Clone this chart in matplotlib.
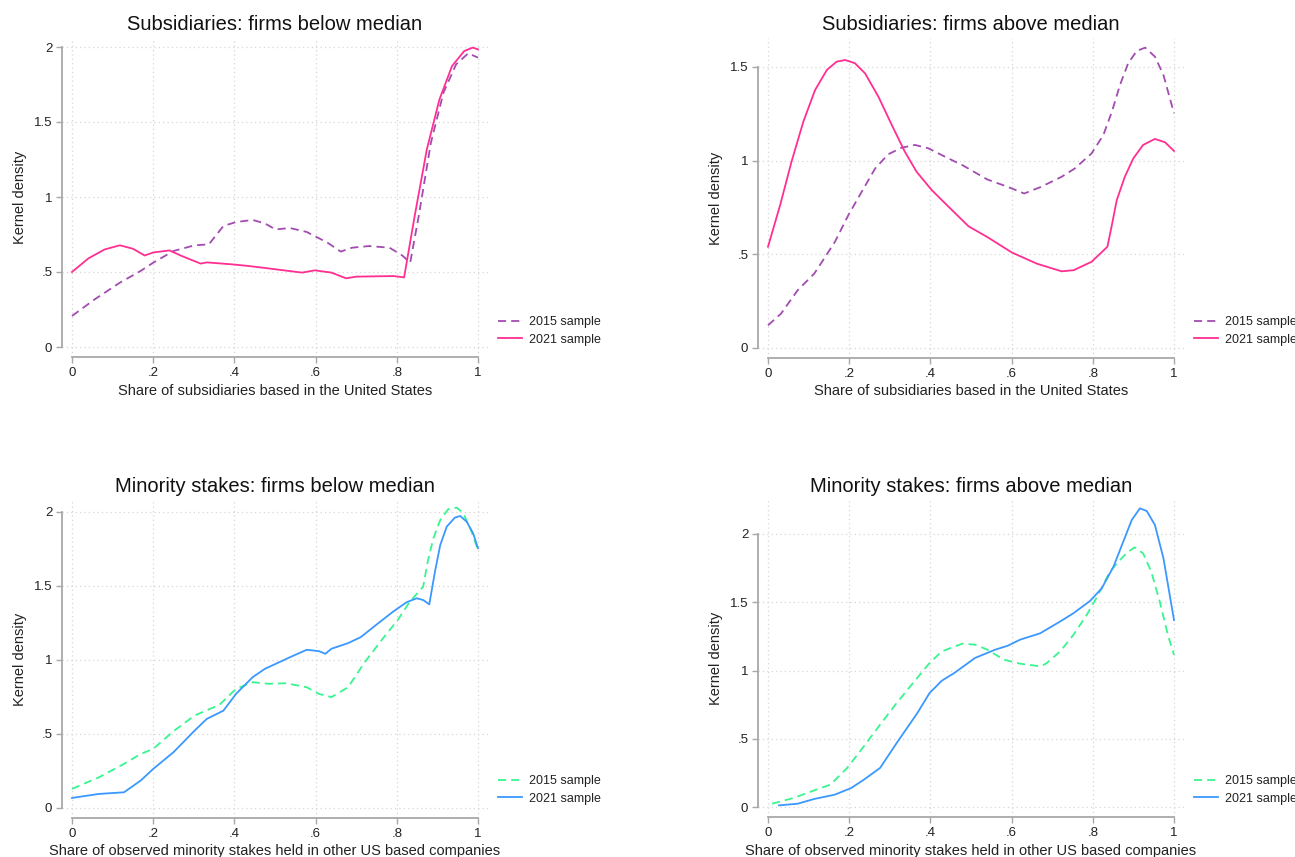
import matplotlib
matplotlib.use("Agg")
import matplotlib.pyplot as plt

plt.rcParams['font.family'] = ['Liberation Sans', 'DejaVu Sans']

W, H = 1295, 857

# ---------------- data ----------------
# Panel 1: Subsidiaries, firms below median
p1_2015_x = [0.0, 0.056, 0.118, 0.169, 0.2, 0.25, 0.302, 0.337, 0.373, 0.404, 0.445, 0.475, 0.501,
             0.537, 0.578, 0.629, 0.662, 0.69, 0.731, 0.782, 0.813, 0.833, 0.854, 0.884, 0.915,
             0.946, 0.976, 1.0]
p1_2015_y = [0.207, 0.318, 0.429, 0.507, 0.562, 0.64, 0.678, 0.684, 0.807, 0.833, 0.847, 0.824, 0.784,
             0.793, 0.767, 0.696, 0.636, 0.662, 0.673, 0.662, 0.611, 0.562, 0.873, 1.362, 1.696,
             1.884, 1.958, 1.929]
p1_2021_x = [0.0, 0.04, 0.08, 0.118, 0.15, 0.179, 0.2, 0.24, 0.27, 0.317, 0.332, 0.394, 0.435, 0.475,
             0.516, 0.567, 0.598, 0.639, 0.675, 0.70, 0.792, 0.818, 0.844, 0.874, 0.905, 0.936,
             0.966, 0.987, 1.0]
p1_2021_y = [0.5, 0.59, 0.65, 0.678, 0.655, 0.61, 0.63, 0.644, 0.607, 0.556, 0.564, 0.551, 0.54, 0.527,
             0.513, 0.496, 0.511, 0.496, 0.458, 0.469, 0.473, 0.464, 0.873, 1.318, 1.65, 1.873,
             1.973, 1.996, 1.984]

# Panel 2: Subsidiaries, firms above median
p2_2015_x = [0.0, 0.032, 0.073, 0.114, 0.128, 0.165, 0.198, 0.231, 0.264, 0.296, 0.329, 0.362, 0.395,
             0.436, 0.479, 0.54, 0.591, 0.631, 0.672, 0.723, 0.756, 0.797, 0.826, 0.847, 0.867,
             0.887, 0.908, 0.929, 0.953, 0.974, 1.0]
p2_2015_y = [0.121, 0.183, 0.308, 0.397, 0.443, 0.567, 0.709, 0.834, 0.958, 1.033, 1.068, 1.083, 1.065,
             1.02, 0.975, 0.899, 0.859, 0.824, 0.859, 0.913, 0.958, 1.038, 1.136, 1.26, 1.403,
             1.518, 1.584, 1.602, 1.554, 1.456, 1.252]
p2_2021_x = [0.0, 0.03, 0.058, 0.087, 0.116, 0.145, 0.169, 0.19, 0.214, 0.239, 0.272, 0.305, 0.337,
             0.366, 0.403, 0.436, 0.494, 0.54, 0.601, 0.662, 0.723, 0.753, 0.797, 0.836, 0.847,
             0.859, 0.879, 0.9, 0.924, 0.953, 0.978, 1.0]
p2_2021_y = [0.54, 0.763, 0.994, 1.207, 1.376, 1.483, 1.527, 1.536, 1.519, 1.465, 1.34, 1.189, 1.047,
             0.94, 0.843, 0.772, 0.649, 0.592, 0.509, 0.45, 0.409, 0.415, 0.46, 0.54, 0.656,
             0.789, 0.914, 1.012, 1.083, 1.115, 1.097, 1.051]

# Panel 3: Minority stakes, firms below median
p3_2015_x = [0.0, 0.066, 0.128, 0.169, 0.2, 0.25, 0.302, 0.363, 0.404, 0.445, 0.486, 0.527, 0.578,
             0.608, 0.639, 0.68, 0.721, 0.762, 0.804, 0.832, 0.865, 0.876, 0.89, 0.907, 0.927,
             0.948, 0.964, 0.984, 1.0]
p3_2015_y = [0.129, 0.207, 0.298, 0.365, 0.399, 0.519, 0.625, 0.697, 0.805, 0.85, 0.839, 0.843, 0.816,
             0.771, 0.749, 0.816, 0.985, 1.132, 1.277, 1.394, 1.495, 1.664, 1.822, 1.946, 2.02,
             2.029, 1.991, 1.869, 1.743]
p3_2021_x = [0.0, 0.066, 0.128, 0.169, 0.2, 0.25, 0.302, 0.332, 0.373, 0.404, 0.445, 0.475, 0.537,
             0.578, 0.608, 0.624, 0.639, 0.68, 0.711, 0.755, 0.791, 0.824, 0.849, 0.865, 0.88,
             0.894, 0.907, 0.923, 0.943, 0.956, 0.972, 0.988, 1.0]
p3_2021_y = [0.068, 0.095, 0.106, 0.185, 0.264, 0.377, 0.523, 0.602, 0.658, 0.771, 0.884, 0.94, 1.019,
             1.069, 1.06, 1.042, 1.076, 1.114, 1.154, 1.25, 1.327, 1.39, 1.417, 1.405, 1.376,
             1.597, 1.777, 1.901, 1.962, 1.973, 1.935, 1.856, 1.755]

# Panel 4: Minority stakes, firms above median
p4_2015_x = [0.01, 0.063, 0.114, 0.154, 0.195, 0.236, 0.276, 0.317, 0.357, 0.398, 0.428, 0.479, 0.51,
             0.54, 0.581, 0.621, 0.672, 0.686, 0.719, 0.752, 0.785, 0.813, 0.842, 0.867, 0.887,
             0.903, 0.924, 0.944, 0.965, 0.985, 1.0]
p4_2015_y = [0.024, 0.066, 0.122, 0.164, 0.286, 0.444, 0.603, 0.762, 0.908, 1.055, 1.14, 1.197, 1.189,
             1.153, 1.079, 1.05, 1.03, 1.053, 1.138, 1.26, 1.407, 1.553, 1.724, 1.81, 1.87,
             1.902, 1.858, 1.724, 1.504, 1.26, 1.114]
p4_2021_x = [0.027, 0.073, 0.114, 0.164, 0.205, 0.236, 0.276, 0.317, 0.368, 0.398, 0.428, 0.459, 0.51,
             0.56, 0.591, 0.621, 0.67, 0.719, 0.752, 0.793, 0.822, 0.851, 0.875, 0.896, 0.916,
             0.933, 0.953, 0.974, 1.0]
p4_2021_y = [0.012, 0.024, 0.059, 0.09, 0.139, 0.2, 0.286, 0.469, 0.689, 0.835, 0.925, 0.982, 1.092,
             1.153, 1.182, 1.226, 1.272, 1.358, 1.419, 1.509, 1.602, 1.761, 1.944, 2.103, 2.188,
             2.168, 2.066, 1.822, 1.37]

titles = ["Subsidiaries: firms below median", "Subsidiaries: firms above median",
          "Minority stakes: firms below median", "Minority stakes: firms above median"]
xlabels = ["Share of subsidiaries based in the United States",
           "Share of subsidiaries based in the United States",
           "Share of observed minority stakes held in other US based companies",
           "Share of observed minority stakes held in other US based companies"]
ylabel = "Kernel density"
legend_labels = ["2015 sample", "2021 sample"]
xticks = [0, 0.2, 0.4, 0.6, 0.8, 1.0]
xticklabels = ["0", ".2", ".4", ".6", ".8", "1"]
yticks_a = [0, 0.5, 1.0, 1.5, 2.0]
yticklabels_a = ["0", ".5", "1", "1.5", "2"]
yticks_b = [0, 0.5, 1.0, 1.5]
yticklabels_b = ["0", ".5", "1", "1.5"]

PURPLE = "#a24cb0"
PINK = "#ff2f92"
GREEN = "#38f58f"
BLUE = "#3a98ff"

# layout: pixel boxes (left, right, top, bottom), and pixel of y=0 and pixels per unit
panels = [
    dict(box=(62, 488, 38, 357), x0=72, xppu=406, y0=347, yppu=150.0,
         d=[(p1_2015_x, p1_2015_y), (p1_2021_x, p1_2021_y)], cols=(PURPLE, PINK),
         yt=yticks_a, ytl=yticklabels_a, title_y=25, xlab_y=391, leg_y=331),
    dict(box=(758, 1184, 38, 358), x0=768, xppu=406, y0=348, yppu=187.5,
         d=[(p2_2015_x, p2_2015_y), (p2_2021_x, p2_2021_y)], cols=(PURPLE, PINK),
         yt=yticks_b, ytl=yticklabels_b, title_y=25, xlab_y=391, leg_y=331),
    dict(box=(62, 488, 500, 818), x0=72, xppu=406, y0=808, yppu=148.0,
         d=[(p3_2015_x, p3_2015_y), (p3_2021_x, p3_2021_y)], cols=(GREEN, BLUE),
         yt=yticks_a, ytl=yticklabels_a, title_y=486, xlab_y=851, leg_y=790),
    dict(box=(758, 1184, 500, 817), x0=768, xppu=406, y0=807, yppu=136.5,
         d=[(p4_2015_x, p4_2015_y), (p4_2021_x, p4_2021_y)], cols=(GREEN, BLUE),
         yt=yticks_a, ytl=yticklabels_a, title_y=486, xlab_y=851, leg_y=790),
]

fig = plt.figure(figsize=(W / 100, H / 100), dpi=100)
fig.patch.set_facecolor("white")

SPINE = "#a8a8a8"
for i, p in enumerate(panels):
    L, R, T, B = p["box"]
    ax = fig.add_axes([L / W, 1 - B / H, (R - L) / W, (B - T) / H])
    ax.set_xlim((L - p["x0"]) / p["xppu"], (R - p["x0"]) / p["xppu"])
    ax.set_ylim((p["y0"] - B) / p["yppu"], (p["y0"] - T) / p["yppu"])
    (x15, y15), (x21, y21) = p["d"]
    c15, c21 = p["cols"]
    l1, = ax.plot(x15, y15, color=c15, lw=1.3, dashes=(4.5, 2.8), label=legend_labels[0],
                  solid_joinstyle="round", dash_joinstyle="round")
    l2, = ax.plot(x21, y21, color=c21, lw=1.3, label=legend_labels[1],
                  solid_joinstyle="round")

    ax.set_xticks(xticks)
    ax.set_xticklabels(xticklabels)
    ax.set_yticks(p["yt"])
    ax.set_yticklabels(p["ytl"])
    ax.grid(True, color="#d6d6d6", linestyle=(0, (1, 2.5)), linewidth=0.9)
    ax.set_axisbelow(True)
    for s in ("top", "right"):
        ax.spines[s].set_visible(False)
    ax.spines["left"].set_bounds(0, p["yt"][-1])
    ax.spines["bottom"].set_bounds(0, 1)
    for s in ("left", "bottom"):
        ax.spines[s].set_color(SPINE)
        ax.spines[s].set_linewidth(1.3)
    ax.tick_params(axis="both", length=4, width=1, color=SPINE, labelsize=9.5,
                   labelcolor="#222222", pad=3)
    ax.set_facecolor("none")

    cx = (L + R) / 2
    fig.text(cx / W, 1 - p["title_y"] / H, titles[i], ha="center", va="center",
             fontsize=14.5, color="#111111")
    fig.text(cx / W, 1 - p["xlab_y"] / H, xlabels[i], ha="center", va="center",
             fontsize=10.5, color="#222222")
    fig.text((L - 42) / W, 1 - ((T + B) / 2) / H, ylabel, ha="center", va="center",
             rotation=90, fontsize=10.5, color="#222222")

    leg = fig.legend(handles=[l1, l2], loc="center left",
                     bbox_to_anchor=((R + 10) / W, 1 - p["leg_y"] / H),
                     frameon=False, fontsize=9, handlelength=1.95, handletextpad=0.55,
                     labelspacing=0.45, borderpad=0, borderaxespad=0)
    for t in leg.get_texts():
        t.set_color("#222222")

fig.savefig("out.png", dpi=100, facecolor="white")
